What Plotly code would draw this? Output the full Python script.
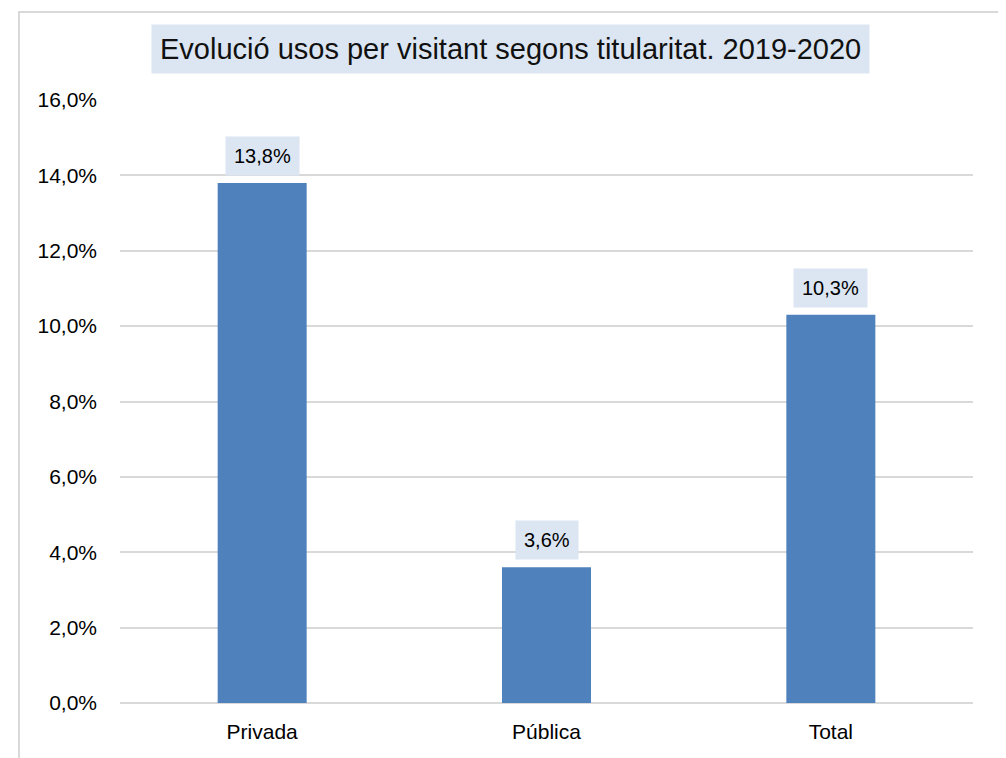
import plotly.graph_objects as go

categories = ["Privada", "Pública", "Total"]
values = [13.8, 3.6, 10.3]
labels = ["13,8%", "3,6%", "10,3%"]
y_ticks = [0, 2, 4, 6, 8, 10, 12, 14, 16]
y_tick_text = ["0,0%", "2,0%", "4,0%", "6,0%", "8,0%", "10,0%", "12,0%", "14,0%", "16,0%"]
title_text = "Evolució usos per visitant segons titularitat. 2019-2020"

FONT = "Liberation Sans, Arial, sans-serif"
OFF = 8  # page body margin
W, H = 1006, 758
# plot area in screen pixels
PX0, PX1, PY0, PY1 = 120, 973, 100, 703
L = PX0 - OFF
T = PY0 - OFF
R = W - (PX1 - OFF)
B = H - (PY1 - OFF)
pw, ph = PX1 - PX0, PY1 - PY0

def px_x(x):
    return (x - PX0) / pw

def px_y(y):
    return (PY1 - y) / ph

fig = go.Figure()
fig.add_trace(go.Bar(
    x=categories, y=values,
    marker=dict(color="#4F81BD", line=dict(width=0)),
    width=0.313,
    hoverinfo="skip",
))

for c, v, t in zip(categories, values, labels):
    fig.add_annotation(
        x=c, y=v, xref="x", yref="y", text=t, showarrow=False,
        yanchor="bottom", yshift=7,
        bgcolor="#DCE6F2", borderpad=8,
        font=dict(family=FONT, size=20, color="#000000"),
    )

fig.add_annotation(
    x=px_x(510.5), y=px_y(49.5), xref="paper", yref="paper",
    text=title_text, showarrow=False, xanchor="center", yanchor="middle",
    bgcolor="#DCE6F2", borderpad=8,
    font=dict(family=FONT, size=29, color="#111111"),
)

fig.add_shape(
    type="rect", xref="paper", yref="paper",
    x0=px_x(19), x1=px_x(1002), y0=px_y(820), y1=px_y(12),
    line=dict(color="#D9D9D9", width=2), fillcolor="rgba(0,0,0,0)",
    layer="below",
)

fig.update_layout(
    width=W, height=H,
    margin=dict(l=L, r=R, t=T, b=B, autoexpand=False),
    plot_bgcolor="white", paper_bgcolor="white",
    showlegend=False,
    font=dict(family=FONT, size=21, color="#000000"),
)
fig.update_xaxes(
    showgrid=False, showline=False, ticks="", zeroline=False,
    tickfont=dict(family=FONT, size=21, color="#000000"),
    ticklabelstandoff=14,
)
fig.update_yaxes(
    range=[0, 16], tickvals=y_ticks, ticktext=y_tick_text,
    showgrid=True, gridcolor="#D9D9D9", gridwidth=2,
    zeroline=True, zerolinecolor="#D9D9D9", zerolinewidth=2,
    showline=False, ticks="",
    tickfont=dict(family=FONT, size=21, color="#000000"),
    ticklabelstandoff=22,
)

fig.write_html("out.html")
